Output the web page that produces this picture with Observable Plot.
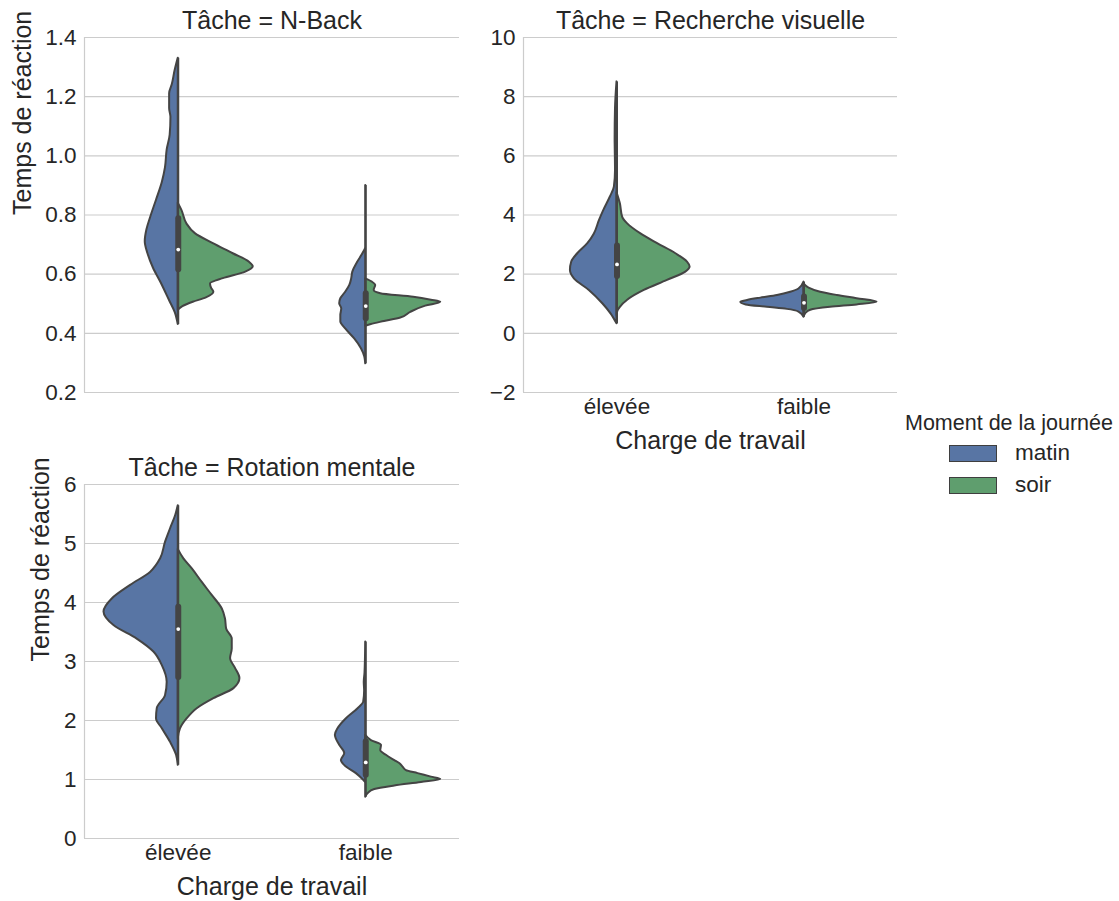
<!DOCTYPE html>
<html><head><meta charset="utf-8">
<script src="https://cdn.jsdelivr.net/npm/d3@7"></script>
<script src="https://cdn.jsdelivr.net/npm/@observablehq/plot@0.6"></script>
<style>
body{margin:0;background:#fff;font-family:"Liberation Sans",Arial,sans-serif;color:#262626;}
#chart{position:relative;width:1119px;height:901px;overflow:hidden;}
#chart > .pan{position:absolute;}
#legend{position:absolute;left:905px;top:410px;width:214px;}
#legend .ttl{font-size:21.5px;line-height:26px;white-space:nowrap;}
#legend .row{position:absolute;left:44px;height:17px;}
#legend .sw{position:absolute;left:0;top:0;width:46px;height:15px;border:1px solid #3f3f3f;}
#legend .lb{position:absolute;left:66px;top:-5px;font-size:22.5px;line-height:26px;white-space:nowrap;}
</style></head><body><div id="chart"><div id="legend"></div></div>
<script>
// ---------- data ----------
const categories = ["élevée", "faible"];
const moments = ["matin", "soir"];
const palette = ["#5875A4", "#5F9E6E"];
const titles = ["Tâche = N-Back", "Tâche = Recherche visuelle", "Tâche = Rotation mentale"];

// violin half profiles: [value, half-width in category units]
const nbackEleveeMatin = [[1.33,0],[1.29,0.016],[1.24,0.032],[1.21,0.046],[1.16,0.046],[1.13,0.039],[1.07,0.043],[1.02,0.059],[0.96,0.068],[0.91,0.085],[0.85,0.116],[0.79,0.148],[0.75,0.167],[0.71,0.176],[0.67,0.162],[0.62,0.132],[0.57,0.091],[0.51,0.046],[0.47,0.016],[0.43,0]];
const nbackEleveeSoir = [[0.84,0],[0.815,0.02],[0.77,0.046],[0.737,0.091],[0.703,0.187],[0.669,0.293],[0.64,0.38],[0.625,0.40],[0.607,0.36],[0.585,0.24],[0.567,0.172],[0.552,0.178],[0.539,0.19],[0.52,0.15],[0.505,0.08],[0.49,0.025],[0.478,0]];
const nbackFaibleMatin = [[0.90,0],[0.69,0],[0.674,0.011],[0.64,0.043],[0.607,0.069],[0.584,0.075],[0.562,0.085],[0.539,0.107],[0.517,0.133],[0.50,0.139],[0.483,0.128],[0.46,0.133],[0.438,0.133],[0.415,0.107],[0.381,0.059],[0.348,0.023],[0.32,0.005],[0.297,0]];
const nbackFaibleSoir = [[0.584,0],[0.573,0.035],[0.562,0.053],[0.545,0.045],[0.534,0.08],[0.522,0.256],[0.512,0.35],[0.505,0.40],[0.492,0.32],[0.471,0.24],[0.452,0.187],[0.44,0.10],[0.43,0.03],[0.424,0]];

const visuEleveeMatin = [[8.5,0],[7.6,0.008],[6.6,0.01],[5.5,0.008],[4.94,0.014],[4.6,0.036],[4.15,0.071],[3.81,0.094],[3.36,0.121],[3.03,0.156],[2.69,0.21],[2.41,0.242],[2.13,0.249],[1.84,0.228],[1.45,0.148],[1.0,0.076],[0.66,0.032],[0.32,0]];
const visuEleveeSoir = [[4.75,0],[4.38,0.018],[3.93,0.03],[3.7,0.057],[3.36,0.128],[3.03,0.217],[2.69,0.315],[2.41,0.377],[2.24,0.391],[2.07,0.368],[1.79,0.27],[1.45,0.146],[1.12,0.057],[0.88,0.018],[0.75,0.005],[0.6,0]];
const visuFaibleMatin = [[1.73,0],[1.50,0.027],[1.39,0.071],[1.28,0.142],[1.19,0.231],[1.11,0.302],[1.05,0.338],[0.96,0.309],[0.88,0.196],[0.81,0.089],[0.72,0.027],[0.55,0]];
const visuFaibleSoir = [[1.67,0],[1.53,0.027],[1.39,0.089],[1.28,0.178],[1.17,0.284],[1.05,0.391],[0.96,0.284],[0.88,0.142],[0.78,0.036],[0.66,0.009],[0.55,0]];

const rotEleveeMatin = [[5.64,0],[5.47,0.014],[5.25,0.041],[5.02,0.068],[4.74,0.094],[4.51,0.148],[4.29,0.254],[4.06,0.352],[3.84,0.396],[3.61,0.343],[3.38,0.219],[3.16,0.13],[2.93,0.085],[2.65,0.059],[2.42,0.068],[2.2,0.112],[2.03,0.116],[1.86,0.085],[1.63,0.041],[1.41,0.009],[1.24,0]];
const rotEleveeSoir = [[4.9,0],[4.74,0.03],[4.57,0.075],[4.34,0.128],[4.12,0.181],[3.89,0.235],[3.72,0.252],[3.55,0.258],[3.38,0.288],[3.21,0.288],[3.05,0.279],[2.88,0.306],[2.71,0.329],[2.54,0.297],[2.37,0.19],[2.2,0.101],[2.03,0.048],[1.86,0.012],[1.69,0]];
const rotFaibleMatin = [[3.33,0],[2.8,0.004],[2.65,0.008],[2.5,0.006],[2.31,0.011],[2.2,0.041],[2.03,0.103],[1.86,0.148],[1.75,0.162],[1.58,0.139],[1.44,0.112],[1.32,0.13],[1.21,0.103],[1.1,0.05],[0.98,0.009],[0.95,0]];
const rotFaibleSoir = [[1.75,0],[1.66,0.03],[1.58,0.084],[1.49,0.08],[1.41,0.11],[1.32,0.155],[1.27,0.181],[1.21,0.199],[1.15,0.217],[1.1,0.279],[1.04,0.35],[1.0,0.40],[0.95,0.297],[0.89,0.155],[0.83,0.048],[0.76,0.012],[0.70,0]];

// box statistics per category: [q1, median, q3]
const nbackBoxes = [[0.615,0.683,0.787],[0.449,0.492,0.534]];
const visuBoxes = [[1.92,2.33,2.95],[0.84,1.03,1.23]];
const rotBoxes = [[2.73,3.55,3.92],[1.07,1.29,1.64]];

// y axis ticks
const nbackTicks = [0.2,0.4,0.6,0.8,1.0,1.2,1.4];
const visuTicks = [-2,0,2,4,6,8,10];
const rotTicks = [0,1,2,3,4,5,6];

// ---------- drawing ----------
const FONT = "'Liberation Sans', Arial, sans-serif";
const TXT = "#262626", EDGE = "#444444", GRID = "#cccccc";

function panel(o) {
  const halves = o.halves;
  const marks = [];
  marks.push(Plot.gridY(o.ticks, {stroke: GRID, strokeOpacity: 1, strokeWidth: 1.2}));
  marks.push(Plot.ruleX([-0.5], {stroke: GRID, strokeWidth: 1.2}));
  marks.push(Plot.ruleY([o.ticks[0]], {stroke: GRID, strokeWidth: 1.2}));
  const ext = [];
  halves.forEach((pair, ci) => {
    let lo = Infinity, hi = -Infinity;
    pair.forEach((arr, mi) => {
      const rows = arr.map(([v, w]) => ({v, w, c: ci})).sort((a, b) => a.v - b.v);
      rows.forEach(r => { lo = Math.min(lo, r.v); hi = Math.max(hi, r.v); });
      const sgn = mi === 0 ? -1 : 1;
      marks.push(Plot.areaX(rows, {
        y: "v", x1: d => d.c, x2: d => d.c + sgn * d.w,
        fill: palette[mi], stroke: EDGE, strokeWidth: 2, strokeLinejoin: "round",
        curve: "monotone-y"
      }));
    });
    ext.push({c: ci, lo, hi});
  });
  const boxes = o.boxes.map(([q1, med, q3], c) => ({c, q1, med, q3}));
  marks.push(Plot.ruleX(ext, {x: "c", y1: "lo", y2: "hi", stroke: EDGE, strokeWidth: 2}));
  marks.push(Plot.ruleX(boxes, {x: "c", y1: "q1", y2: "q3", stroke: EDGE, strokeWidth: 6, strokeLinecap: "round"}));
  marks.push(Plot.dot(boxes, {x: "c", y: "med", r: 1.9, fill: "white", stroke: null}));
  marks.push(Plot.axisY({ticks: o.ticks, tickFormat: o.fmt, tickSize: 0, tickPadding: 8, fontSize: 22.5, fill: TXT, label: null}));
  if (o.showX) {
    marks.push(Plot.axisX({ticks: [0, 1], tickFormat: i => categories[i], tickSize: 0, tickPadding: 6, fontSize: 22.5, fill: TXT, label: null}));
    marks.push(Plot.text(["Charge de travail"], {text: d => d, frameAnchor: "bottom", dy: 48, lineAnchor: "middle", fontSize: 25, fill: TXT}));
  } else {
    marks.push(Plot.axisX({ticks: [], label: null}));
  }
  marks.push(Plot.text([o.title], {text: d => d, frameAnchor: "top", dy: -17, lineAnchor: "middle", fontSize: 25, fill: TXT}));
  if (o.ylabel) {
    marks.push(Plot.text([o.ylabel], {text: d => d, frameAnchor: "left", dx: o.yLabelDx, rotate: -90, lineAnchor: "middle", fontSize: 25, fill: TXT}));
  }
  const svg = Plot.plot({
    width: o.width, height: o.height,
    marginLeft: o.ml, marginRight: o.mr, marginTop: o.mt, marginBottom: o.mb,
    x: {type: "linear", domain: [-0.5, 1.5]},
    y: {type: "linear", domain: [o.ticks[0], o.ticks[o.ticks.length - 1]]},
    style: {fontFamily: FONT, color: TXT, background: "transparent", overflow: "visible"},
    marks
  });
  svg.classList.add("pan");
  svg.style.left = o.left + "px";
  svg.style.top = o.top + "px";
  document.getElementById("chart").appendChild(svg);
}

panel({halves: [[nbackEleveeMatin, nbackEleveeSoir], [nbackFaibleMatin, nbackFaibleSoir]], boxes: nbackBoxes,
  ticks: nbackTicks, fmt: d3.format(".1f"), showX: false, title: titles[0], ylabel: "Temps de réaction", yLabelDx: -62,
  left: 0, top: 0, width: 470, height: 400, ml: 84, mr: 11, mt: 37, mb: 8});
panel({halves: [[visuEleveeMatin, visuEleveeSoir], [visuFaibleMatin, visuFaibleSoir]], boxes: visuBoxes,
  ticks: visuTicks, fmt: d3.format("d"), showX: true, title: titles[1], ylabel: null,
  left: 470, top: 0, width: 440, height: 460, ml: 53, mr: 13, mt: 37, mb: 68});
panel({halves: [[rotEleveeMatin, rotEleveeSoir], [rotFaibleMatin, rotFaibleSoir]], boxes: rotBoxes,
  ticks: rotTicks, fmt: d3.format("d"), showX: true, title: titles[2], ylabel: "Temps de réaction", yLabelDx: -44,
  left: 0, top: 440, width: 470, height: 460, ml: 84, mr: 11, mt: 44, mb: 62});

// legend
const lg = document.getElementById("legend");
const t = document.createElement("div"); t.className = "ttl"; t.textContent = "Moment de la journée"; lg.appendChild(t);
moments.forEach((m, i) => {
  const row = document.createElement("div"); row.className = "row"; row.style.top = (35 + i * 32) + "px";
  const sw = document.createElement("div"); sw.className = "sw"; sw.style.background = palette[i];
  const lb = document.createElement("div"); lb.className = "lb"; lb.textContent = m;
  row.appendChild(sw); row.appendChild(lb); lg.appendChild(row);
});
</script></body></html>
